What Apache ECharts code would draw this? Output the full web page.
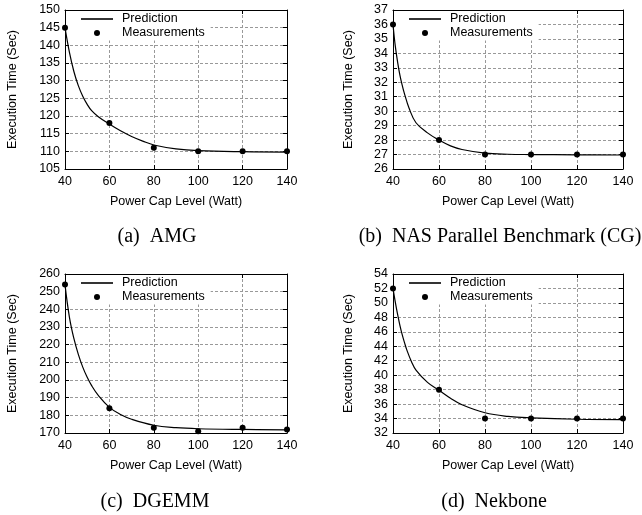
<!DOCTYPE html>
<html>
<head>
<meta charset="utf-8">
<script src="https://cdn.jsdelivr.net/npm/echarts@6/dist/echarts.min.js"></script>
<style>
html,body{margin:0;padding:0;background:#fff;}
#chart{width:642px;height:515px;}
</style>
</head>
<body>
<div id="chart"></div>
<script>
// ---- data ----
const measW = [40, 60, 80, 100, 120, 140];
const amgMeas = [145, 118, 111, 110, 110, 110];
const cgMeas = [36, 28, 27, 27, 27, 27];
const dgemmMeas = [254, 184, 173, 171, 173, 172];
const nekMeas = [52, 38, 34, 34, 34, 34];

const amgPredW = [40, 42, 44, 46, 48, 50, 52, 55, 60, 65, 70, 75, 80, 90, 100, 120, 140];
const amgPredT = [145, 138.0, 132.6, 128.6, 125.6, 123.3, 121.5, 119.8, 117.7, 115.8, 114.2, 112.9, 111.8, 110.7, 110.2, 109.9, 109.8];

const cgPredW = [40, 41, 42, 43, 44, 45, 47, 50, 55, 60, 65, 70, 80, 90, 100, 120, 140];
const cgPredT = [36, 34.5, 33.4, 32.5, 31.8, 31.2, 30.2, 29.2, 28.5, 28.0, 27.6, 27.35, 27.1, 27.02, 27.0, 26.98, 26.97];

const dgemmPredW = [40, 42, 44, 46, 48, 50, 52, 55, 60, 65, 70, 80, 90, 100, 120, 140];
const dgemmPredT = [254, 235.5, 223.5, 214.5, 207.3, 201.5, 196.8, 191.3, 184.5, 180.5, 177.8, 174.4, 173.0, 172.4, 172.0, 171.8];

const nekPredW = [40, 41, 42, 43, 44, 45, 46, 48, 50, 55, 60, 65, 70, 80, 90, 100, 120, 140];
const nekPredT = [52, 50.1, 48.4, 46.9, 45.6, 44.5, 43.5, 41.9, 40.7, 39.0, 37.9, 36.8, 35.9, 34.8, 34.3, 34.1, 33.9, 33.85];

const xTicks = {min: 40, max: 140, interval: 20};
const yTicks = [
  {min: 105, max: 150, interval: 5},
  {min: 26, max: 37, interval: 1},
  {min: 170, max: 260, interval: 10},
  {min: 32, max: 54, interval: 2}
];
const captions = ['(a)  AMG', '(b)  NAS Parallel Benchmark (CG)', '(c)  DGEMM', '(d)  Nekbone'];
const xTitle = 'Power Cap Level (Watt)';
const yTitle = 'Execution Time (Sec)';
const seriesNames = ['Prediction', 'Measurements'];

// ---- layout / style ----
const grids = [
  {left: 65, top: 10, width: 222, height: 159},
  {left: 393, top: 10, width: 230, height: 159},
  {left: 65, top: 274, width: 222, height: 159},
  {left: 393, top: 274, width: 230, height: 159}
];
const yNameGaps = [45.5, 37.5, 45.5, 37.5];
const captionPos = [[157, 237], [500, 237], [155, 502], [494, 502]];

const SANS = 'Liberation Sans';
const SERIF = 'Liberation Serif';
const gridLine = {show: true, lineStyle: {color: '#999999', width: 1, type: [3, 2]}};
const blackLine = {show: true, lineStyle: {color: '#000', width: 1}};
const inTick = {show: true, inside: true, length: 4, lineStyle: {color: '#000', width: 1}};

const measData = [amgMeas, cgMeas, dgemmMeas, nekMeas];
const predW = [amgPredW, cgPredW, dgemmPredW, nekPredW];
const predT = [amgPredT, cgPredT, dgemmPredT, nekPredT];

const xAxes = [], yAxes = [], series = [], legends = [], graphics = [];
grids.forEach((g, i) => {
  xAxes.push({
    type: 'value', gridIndex: i, position: 'bottom',
    min: xTicks.min, max: xTicks.max, interval: xTicks.interval,
    axisLine: blackLine, axisTick: inTick, splitLine: gridLine,
    axisLabel: {color: '#000', fontFamily: SANS, fontSize: 12.5, margin: 6},
    name: xTitle, nameLocation: 'middle', nameGap: 26,
    nameTextStyle: {color: '#000', fontFamily: SANS, fontSize: 12.5}
  });
  xAxes.push({
    type: 'value', gridIndex: i, position: 'top',
    min: xTicks.min, max: xTicks.max, interval: xTicks.interval,
    axisLine: blackLine, axisTick: inTick, splitLine: {show: false}, axisLabel: {show: false}
  });
  const yt = yTicks[i];
  yAxes.push({
    type: 'value', gridIndex: i, position: 'left',
    min: yt.min, max: yt.max, interval: yt.interval,
    axisLine: blackLine, axisTick: inTick, splitLine: gridLine,
    axisLabel: {color: '#000', fontFamily: SANS, fontSize: 12.5, margin: 5},
    name: yTitle, nameLocation: 'middle', nameRotate: 90, nameGap: yNameGaps[i],
    nameTextStyle: {color: '#000', fontFamily: SANS, fontSize: 12.5}
  });
  yAxes.push({
    type: 'value', gridIndex: i, position: 'right',
    min: yt.min, max: yt.max, interval: yt.interval,
    axisLine: blackLine, axisTick: inTick, splitLine: {show: false}, axisLabel: {show: false}
  });
  series.push({
    name: seriesNames[0], type: 'line', xAxisIndex: 2 * i, yAxisIndex: 2 * i,
    data: predW[i].map((w, k) => [w, predT[i][k]]),
    smooth: 0.4, symbol: 'none',
    lineStyle: {color: '#000', width: 1.2}, itemStyle: {color: '#000'},
    silent: true, z: 10
  });
  series.push({
    name: seriesNames[1], type: 'scatter', xAxisIndex: 2 * i, yAxisIndex: 2 * i,
    data: measW.map((w, k) => [w, measData[i][k]]),
    symbol: 'circle', symbolSize: 6, itemStyle: {color: '#000', opacity: 1},
    silent: true, z: 11
  });
  legends.push({
    left: g.left + 1, top: g.top + 1, orient: 'vertical', z: 5,
    backgroundColor: '#fff', padding: [1.5, 6, 1, 15],
    itemWidth: 32, itemHeight: 6, itemGap: 1, selectedMode: false,
    textStyle: {color: '#000', fontFamily: SANS, fontSize: 12.5, lineHeight: 13, padding: [0, 0, 0, 4]},
    data: [
      {name: seriesNames[0], icon: 'path://M0,0H32V1.6H0Z', itemStyle: {color: '#000'}},
      {name: seriesNames[1], icon: 'circle', itemStyle: {color: '#000', opacity: 1}}
    ]
  });
  graphics.push({
    type: 'text', x: captionPos[i][0], y: captionPos[i][1],
    style: {text: captions[i], fontFamily: SERIF, fontSize: 20, fill: '#000', align: 'center', verticalAlign: 'middle'}
  });
});

const chart = echarts.init(document.getElementById('chart'), null, {renderer: 'canvas'});
chart.setOption({
  backgroundColor: '#fff',
  animation: false,
  grid: grids,
  xAxis: xAxes,
  yAxis: yAxes,
  legend: legends,
  series: series,
  graphic: graphics
});
</script>
</body>
</html>
